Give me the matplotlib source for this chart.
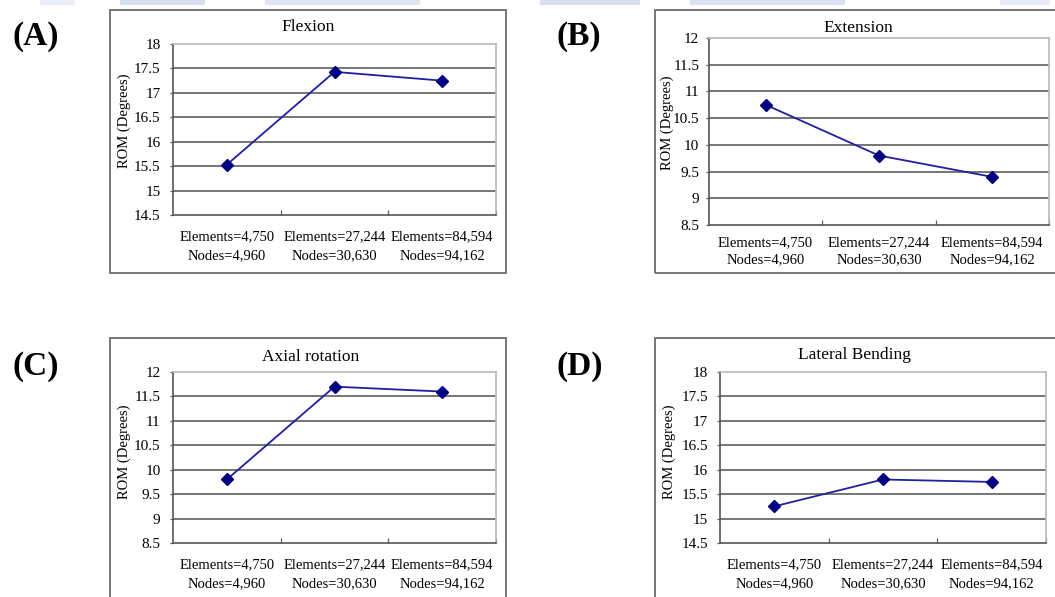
import matplotlib
matplotlib.use("Agg")
import matplotlib.pyplot as plt
import matplotlib.transforms as mtransforms
from matplotlib.patches import Rectangle

W, H = 1055, 597
plt.rcParams['font.family'] = ['Liberation Serif', 'DejaVu Serif']

# ---- data ----
categories = ["Elements=4,750\nNodes=4,960",
              "Elements=27,244\nNodes=30,630",
              "Elements=84,594\nNodes=94,162"]
titles = ["Flexion", "Extension", "Axial rotation", "Lateral Bending"]
panel_labels = ["(A)", "(B)", "(C)", "(D)"]
flexion = [15.53, 17.43, 17.25]
extension = [10.75, 9.8, 9.4]
axial_rotation = [9.8, 11.7, 11.6]
lateral_bending = [15.25, 15.8, 15.75]
series = [flexion, extension, axial_rotation, lateral_bending]
ylims = [(14.5, 18), (8.5, 12), (8.5, 12), (14.5, 18)]
ylabel = "ROM (Degrees)"

# ---- layout (pixels, top-left origin) ----
boxes = [(110, 10, 506, 273), (655, 10, 1062, 273),
         (110, 338, 506, 612), (655, 338, 1062, 612)]
plots = [(173, 44, 496, 215), (709, 38, 1049, 225),
         (173, 372, 496, 543), (720, 372, 1046, 543)]
title_pos = [(308, 27), (858, 28), (311, 357), (854, 355)]
ylab_pos = [(124, 121), (667, 123), (124, 452), (669, 452)]
label_pos = [(12, 36), (557, 36), (12, 367), (557, 366)]
ytick_pad = [7.0, 5.0, 7.0, 6.5]
xlab_top = [230, 236, 558, 558]
xlab_spacing = [1.65, 1.45, 1.65, 1.65]

fig = plt.figure(figsize=(W / 100, H / 100), dpi=100)
fig.patch.set_facecolor('white')

def fx(x):
    return x / W

def fy(y):
    return 1 - y / H

# faint watermark band at the top
for x0, x1, c in [(40, 75, '#eaeef8'), (120, 205, '#d8dff2'), (265, 420, '#dee4f4'),
                  (540, 640, '#d8dff2'), (690, 845, '#dbe2f3'), (1000, 1050, '#e8ecf7')]:
    fig.patches.append(Rectangle((fx(x0), fy(5)), fx(x1 - x0), 5 / H,
                                 transform=fig.transFigure, facecolor=c,
                                 edgecolor='none', zorder=0))

for i in range(4):
    bx0, by0, bx1, by1 = boxes[i]
    fig.patches.append(Rectangle((fx(bx0), fy(by1)), fx(bx1 - bx0), (by1 - by0) / H,
                                 transform=fig.transFigure, facecolor='none',
                                 edgecolor='#6a6a6a', lw=1.3, zorder=1))
    px0, py0, px1, py1 = plots[i]
    ax = fig.add_axes([fx(px0), fy(py1), fx(px1 - px0), (py1 - py0) / H])
    lo, hi = ylims[i]
    xs = [0.5, 1.5, 2.5]
    ax.plot(xs, series[i], color='#1f1fa0', lw=1.3, marker='D', markersize=6.5,
            markerfacecolor='#000080', markeredgecolor='#000080', zorder=5,
            clip_on=False)
    ax.set_xlim(0, 3)
    ax.set_ylim(lo, hi)
    yt = [lo + 0.5 * k for k in range(int(round((hi - lo) / 0.5)) + 1)]
    ax.set_yticks(yt)
    ax.set_yticklabels([('%g' % v) for v in yt], fontsize=11)
    for v in yt[1:-1]:
        ax.axhline(v, color='#6a6a6a', lw=1.3, zorder=1)
    ax.set_xticks([1, 2, 3])
    ax.set_xticklabels([])
    ax.tick_params(axis='x', direction='in', length=3.5, color='#606060', width=0.9)
    ax.tick_params(axis='y', direction='out', length=2, color='#606060', width=0.9,
                   pad=ytick_pad[i])
    trans = mtransforms.blended_transform_factory(ax.transData, fig.transFigure)
    for k, lab in enumerate(categories):
        ax.text(xs[k], fy(xlab_top[i]), lab, transform=trans,
                ha='center', va='top', fontsize=10.5, linespacing=xlab_spacing[i])
    ax.spines['left'].set_color('#555555')
    ax.spines['bottom'].set_color('#555555')
    ax.spines['top'].set_color('#b8b8b8')
    ax.spines['right'].set_color('#b8b8b8')
    for s in ax.spines.values():
        s.set_linewidth(1.2)
    tx, ty = title_pos[i]
    fig.text(fx(tx), fy(ty), titles[i], ha='center', va='center', fontsize=12.5)
    lx, ly = ylab_pos[i]
    fig.text(fx(lx), fy(ly), ylabel, ha='center', va='center', rotation=90,
             fontsize=10.5)
    plx, ply = label_pos[i]
    fig.text(fx(plx), fy(ply), panel_labels[i], ha='left', va='center',
             fontsize=24, fontweight='bold')

fig.savefig('out.png', dpi=100)
